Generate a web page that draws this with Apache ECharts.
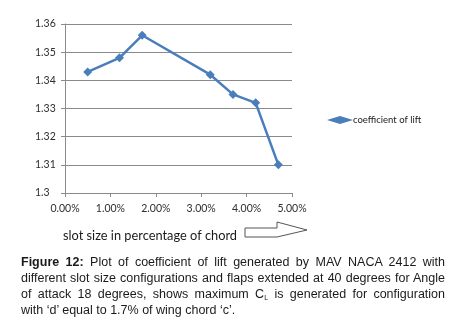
<!DOCTYPE html>
<html>
<head>
<meta charset="utf-8">
<script src="https://cdn.jsdelivr.net/npm/echarts@6/dist/echarts.min.js"></script>
<style>
  html, body { margin: 0; padding: 0; background: #fff; }
  #wrap { position: relative; width: 456px; height: 320px; }
  #chart { position: absolute; left: 0; top: 0; width: 456px; height: 320px; }
  #caption {
    position: absolute; left: 21px; top: 254px; width: 424px;
    font-family: "Liberation Sans", Arial, sans-serif; font-size: 12.5px;
    line-height: 16px; color: #1a1a1a;
  }
  #caption div { text-align: justify; text-align-last: justify; white-space: nowrap; }
  #caption div.last { text-align-last: left; }
  #caption sub { font-size: 7px; vertical-align: -2px; line-height: 0; }
</style>
</head>
<body>
<div id="wrap">
  <div id="chart"></div>
  <div id="caption">
    <div><b>Figure 12:</b> Plot of coefficient of lift generated by MAV NACA 2412 with</div>
    <div>different slot size configurations and flaps extended at 40 degrees for Angle</div>
    <div>of attack 18 degrees, shows maximum C<sub>L</sub> is generated for configuration</div>
    <div class="last">with ‘d’ equal to 1.7% of wing chord ‘c’.</div>
  </div>
</div>
<script>
// slot size (fraction of chord) and lift coefficient
const slotSize = [0.005, 0.012, 0.017, 0.032, 0.037, 0.042, 0.047];
const liftCoef = [1.343, 1.348, 1.356, 1.342, 1.335, 1.332, 1.310];
const seriesName = "coefficient of lift";
const xTitle = "slot size in percentage of chord";

const chart = echarts.init(document.getElementById("chart"));

const axisFont = { fontFamily: "Lato, 'Open Sans', sans-serif", fontSize: 10.5, color: "#2e2e2e" };
const gray = "#8a8a8a";

chart.setOption({
  animation: false,
  textStyle: { fontFamily: "Lato, sans-serif" },
  grid: { left: 65, right: 164, top: 24, bottom: 127 },
  legend: {
    left: 322, top: 110, orient: "vertical",
    itemWidth: 26, itemHeight: 8, itemGap: 2,
    textStyle: { fontFamily: "Lato, sans-serif", fontSize: 9.5, color: "#222", padding: [0, 0, 0, -5] },
    data: [{ name: seriesName, icon: "diamond" }]
  },
  xAxis: {
    type: "value", min: 0, max: 0.05, interval: 0.01,
    axisLine: { show: true, lineStyle: { color: gray } },
    axisTick: { show: true, length: 4, lineStyle: { color: gray } },
    splitLine: { show: false },
    axisLabel: Object.assign({ margin: 10, formatter: v => (v * 100).toFixed(2) + "%" }, axisFont)
  },
  yAxis: {
    type: "value", min: 1.3, max: 1.36, interval: 0.01,
    axisLine: { show: true, lineStyle: { color: gray } },
    axisTick: { show: true, length: 4, lineStyle: { color: gray } },
    splitLine: { show: true, lineStyle: { color: gray, width: 1 } },
    axisLabel: Object.assign({ align: "left", margin: 30, formatter: v => String(+v.toFixed(2)) }, axisFont)
  },
  series: [{
    name: seriesName,
    type: "line",
    data: slotSize.map((x, i) => [x, liftCoef[i]]),
    symbol: "diamond", symbolSize: 9, showSymbol: true,
    itemStyle: { color: "#4a7ebb" },
    lineStyle: { color: "#4a7ebb", width: 2.5 }
  }],
  graphic: [
    {
      type: "text", left: 63, top: 229,
      style: { text: xTitle, font: "12.8px Lato, 'Open Sans', sans-serif", fill: "#1a1a1a" }
    },
    {
      type: "polygon",
      shape: { points: [[245, 228], [277, 228], [277, 222], [307, 230], [277, 237], [245, 237]] },
      style: { fill: "#fff", stroke: "#555", lineWidth: 1 }
    }
  ]
});
</script>
</body>
</html>
